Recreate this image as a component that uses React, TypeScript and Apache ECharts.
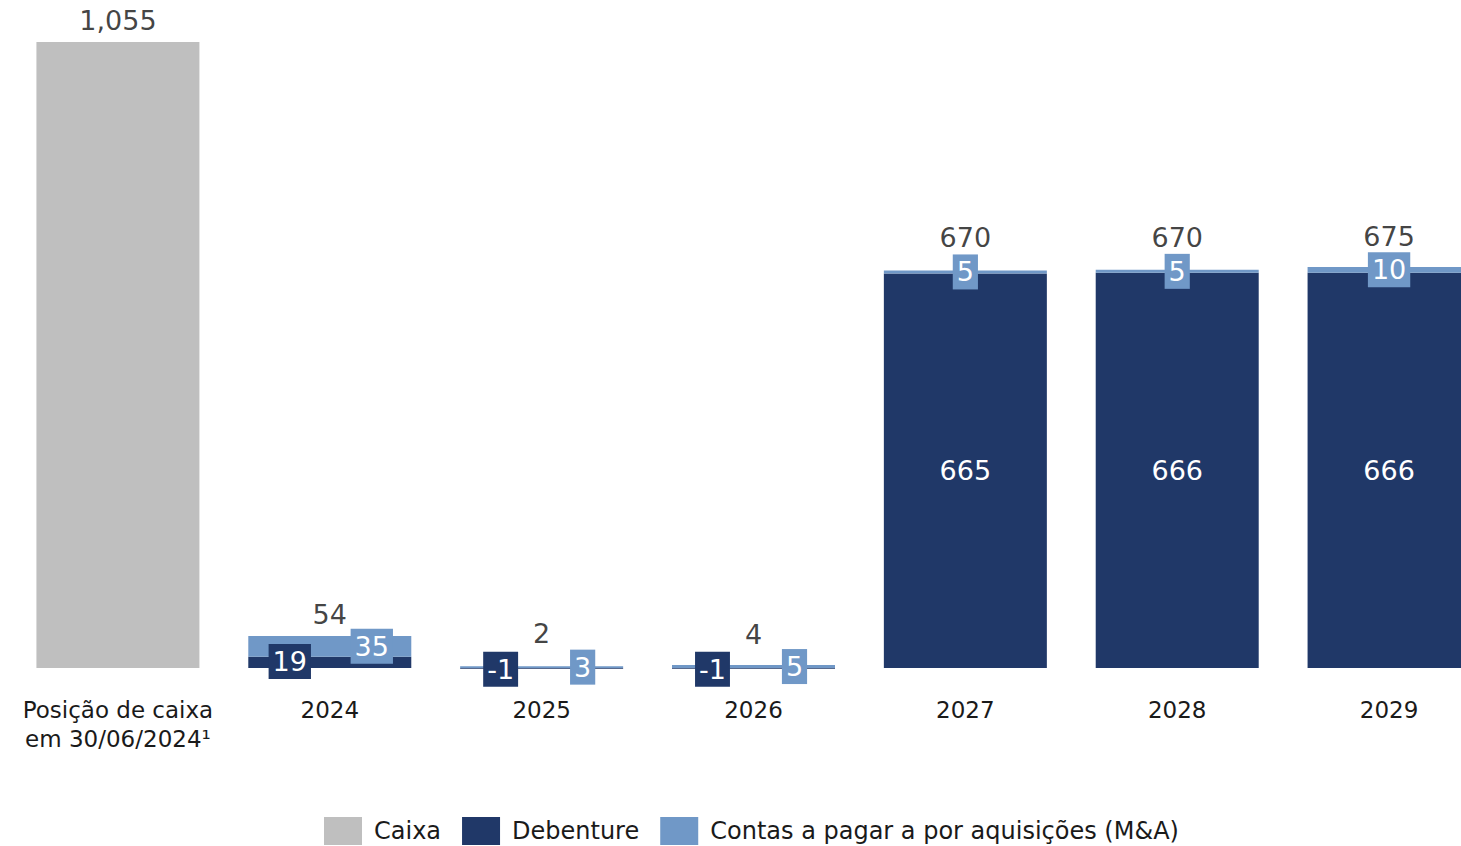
import React, { useEffect, useRef } from "react";
import * as echarts from "echarts";

const categories = [
  "Posição de caixa\nem 30/06/2024¹",
  "2024",
  "2025",
  "2026",
  "2027",
  "2028",
  "2029",
];
const caixa: (number | string)[] = [1055, "-", "-", "-", "-", "-", "-"];
const debenture: (number | string)[] = ["-", 19, -1, -1, 665, 666, 666];
const contas: (number | string)[] = ["-", 35, 3, 5, 5, 5, 10];
const totals = [1055, 54, 2, 4, 670, 670, 675];
const totalLabels = ["1,055", "54", "2", "4", "670", "670", "675"];

const GRAY = "#bfbfbf";
const NAVY = "#203868";
const LIGHT = "#7098c7";
const FONT = "'DejaVu Sans', sans-serif";

export default function App() {
  const ref = useRef<HTMLDivElement>(null);
  useEffect(() => {
    if (!ref.current) return;
    const chart = echarts.init(ref.current, undefined, { renderer: "svg" });

    const smallIdx = [1, 2, 3];
    const debLabelOffsets: Record<number, number[]> = { 1: [-40, -1], 2: [-41, 1], 3: [-41, 1] };
    const conLabelOffsets: Record<number, number[]> = { 1: [42, 0], 2: [41, 0], 3: [41, 0] };
    const totalDist = [7, 6, 18, 16, 18, 18, 16];

    const boxLabel = (color: string) => ({
      show: true,
      position: "inside",
      color: "#ffffff",
      fontFamily: FONT,
      fontSize: 27,
      lineHeight: 31,
      backgroundColor: color,
      padding: [2, 4, 2, 4],
    });

    const debData = debenture.map((v, i) => {
      if (v === "-") return v;
      if (smallIdx.includes(i)) {
        return { value: v, label: { ...boxLabel(NAVY), offset: debLabelOffsets[i] } };
      }
      return {
        value: v,
        label: { show: true, position: "inside", color: "#ffffff", fontFamily: FONT, fontSize: 27 },
      };
    });
    const conData = contas.map((v, i) => {
      if (v === "-") return v;
      const off = conLabelOffsets[i] || [0, 0];
      return { value: v, label: { ...boxLabel(LIGHT), offset: off } };
    });
    const totData = totals.map((v, i) => ({
      value: v,
      label: {
        show: true,
        position: "top",
        distance: totalDist[i],
        formatter: totalLabels[i],
        color: "#111111",
        fontFamily: FONT,
        fontSize: 27,
        lineHeight: 30,
      },
    }));

    chart.setOption({
      animation: false,
      textStyle: { fontFamily: FONT },
      grid: { left: 12, right: 1, top: 42, bottom: 175, containLabel: false },
      legend: {
        left: 324,
        top: 817,
        padding: 0,
        icon: "rect",
        itemWidth: 38,
        itemHeight: 28,
        itemGap: 21,
        textStyle: { fontFamily: FONT, fontSize: 24, color: "#1a1a1a", padding: [0, 0, 0, 7] },
        data: ["Caixa", "Debenture", "Contas a pagar a por aquisições (M&A)"],
      },
      xAxis: {
        type: "category",
        data: categories,
        axisLine: { show: false, onZero: false },
        axisTick: { show: false },
        axisLabel: {
          margin: 24,
          color: "#1a1a1a",
          fontFamily: FONT,
          fontSize: 23,
          lineHeight: 29,
          interval: 0,
        },
      },
      yAxis: {
        type: "value",
        min: -5,
        max: 1055,
        show: false,
        splitLine: { show: false },
      },
      series: [
        {
          name: "Caixa",
          type: "bar",
          stack: "a",
          barWidth: 163,
          itemStyle: { color: GRAY },
          data: caixa,
        },
        {
          name: "Debenture",
          type: "bar",
          stack: "a",
          barWidth: 163,
          itemStyle: { color: NAVY },
          data: debData,
        },
        {
          name: "Contas a pagar a por aquisições (M&A)",
          type: "bar",
          stack: "a",
          barWidth: 163,
          itemStyle: { color: LIGHT },
          data: conData,
        },
        {
          name: "total",
          type: "scatter",
          symbolSize: 0,
          itemStyle: { color: "transparent" },
          data: totData,
          z: 5,
        },
      ],
    });
    return () => chart.dispose();
  }, []);

  return (
    <div style={{ position: "fixed", left: 0, top: 0, width: 1461, height: 846, overflow: "hidden", background: "#fff" }}>
      <div ref={ref} style={{ width: 1496, height: 846 }} />
    </div>
  );
}
